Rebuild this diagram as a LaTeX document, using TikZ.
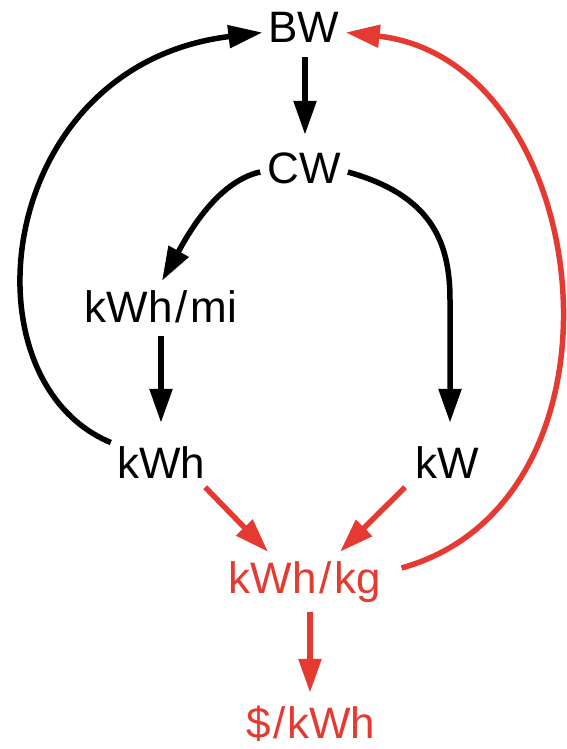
\documentclass[tikz,border=0pt]{standalone}
\usepackage{fontspec}
\setmainfont{Liberation Sans}
\usetikzlibrary{arrows.meta,calc}
\definecolor{myred}{RGB}{229,58,50}
\begin{document}
\begin{tikzpicture}[x=1pt,y=-1pt,
  lbl/.style={font=\fontsize{44}{44}\selectfont, inner sep=0pt, anchor=base, text height=31pt, text depth=0pt},
  conn/.style={line width=5.5pt, -{Triangle[length=34pt,width=22pt]}},
  blk/.style={conn, black},
  rd/.style={conn, myred}]
\useasboundingbox (0,0) rectangle (566,749);
\node[lbl] (BW) at (304,43) {BW};
\node[lbl] (CW) at (304,183) {CW};
\node[lbl] (kWhmi) at (161,322) {kWh\kern3pt/\kern3pt mi};
\node[lbl] (kWh) at (161,478) {kWh};
\node[lbl] (kW) at (447,478) {kW};
\node[lbl, text=myred] (kWhkg) at (305,593) {kWh\kern3pt/\kern3pt kg};
\node[lbl, text=myred] (dollar) at (311,738) {\$\kern2pt/\kern2pt kWh};
% black connectors
\draw[blk] ($(BW.south)+(1,14)$) -- ($(CW.north)+(1,-17)$);
\draw[blk] ($(CW.west)+(-7,4.5)$) .. controls (215,182) and (185,240) .. ($(kWhmi.north)+(1,-10)$);
\draw[blk] ($(kWhmi.south)+(0,14)$) -- ($(kWh.north)+(0,-24)$);
\draw[blk] ($(CW.east)+(7,4.5)$) .. controls (430,195) and (450,240) .. (450,300) -- ($(kW.north)+(3,-24)$);
\draw[blk] ($(kWh.west)+(-6,-20)$) .. controls (-40,380) and (-5,65) .. ($(BW.west)+(-6,5)$);
% red connectors
\draw[rd] ($(kWh.south east)+(0,9)$) -- ($(kWhkg.north)+(-37,-10)$);
\draw[rd] ($(kW.south west)+(-10,9)$) -- ($(kWhkg.north)+(35,-10)$);
\draw[rd] ($(kWhkg.south)+(5,19)$) -- ($(dollar.north)+(-1,-14)$);
\draw[rd] ($(kWhkg.east)+(20,-9.5)$) .. controls (645,500) and (595,60) .. ($(BW.east)+(6,5)$);
\end{tikzpicture}
\end{document}
